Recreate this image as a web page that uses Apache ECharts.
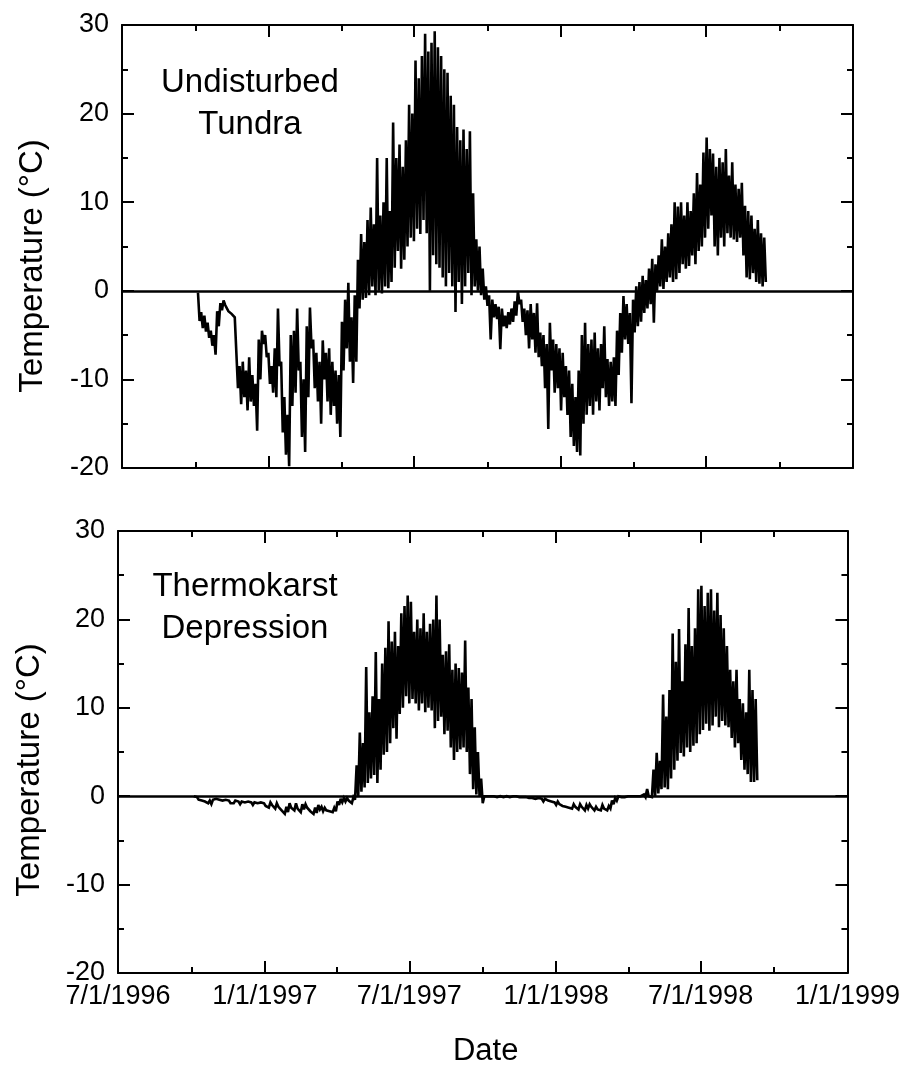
<!DOCTYPE html>
<html>
<head>
<meta charset="utf-8">
<script src="https://cdn.jsdelivr.net/npm/echarts@6/dist/echarts.min.js"></script>
<style>
  html, body { margin: 0; padding: 0; background: #fff; }
  #chart { width: 903px; height: 1068px; }
</style>
</head>
<body>
<div id="chart"></div>
<script>
// Near-surface temperature at two sites, Oct 1996 – Sep 1998.
// Each pair is the [low, high] reading of one 4-day step, beginning at the start date.
const stepDays = 4;
const dateMin = '1996-07-01';
const dateMax = '1999-01-01';
const tempMin = -20, tempMax = 30, tempStep = 10;
const panelLabels = ['Undisturbed\nTundra', 'Thermokarst\nDepression'];
const yTitle = 'Temperature (°C)';
const xTitle = 'Date';

const tundraStart = '1996-10-04';
const tundraRange = [
  [-3.4,-0.2],[-4.2,-2.4],[-4.6,-2.8],[-5.3,-3.6],[-6.2,-4.5],[-7.2,-5.0],[-4.0,-2.3],[-2.2,-1.4],
  [-1.6,-1.1],[-2.3,-1.7],[-2.6,-2.2],[-3.0,-2.5],[-11.0,-3.0],[-12.8,-8.5],[-12.0,-8.0],[-13.5,-9.0],
  [-12.5,-7.5],[-13.0,-9.5],[-15.8,-10.5],[-10.0,-5.5],[-6.0,-4.5],[-7.5,-5.0],[-10.5,-7.0],[-11.5,-8.5],
  [-12.0,-6.5],[-8.5,-2.0],[-16.0,-8.0],[-18.5,-12.0],[-19.8,-14.0],[-13.0,-5.0],[-11.5,-4.5],[-9.0,-2.0],
  [-16.5,-8.0],[-18.2,-10.0],[-12.0,-4.0],[-6.5,-1.9],[-11.0,-5.5],[-12.5,-7.0],[-15.0,-8.0],[-10.0,-5.6],
  [-12.5,-7.0],[-14.0,-6.5],[-13.0,-8.0],[-15.0,-9.0],[-16.5,-9.5],[-9.0,-3.5],[-6.5,-1.0],[-8.0,0.9],
  [-10.4,-3.0],[-8.0,-0.5],[-2.0,3.5],[-1.0,6.4],[-0.8,5.5],[-0.5,8.0],[0.5,9.4],[-0.5,7.5],
  [0.0,15.0],[-0.3,8.5],[0.5,10.0],[0.3,15.0],[1.0,9.0],[2.6,19.0],[4.5,15.0],[2.5,16.5],
  [3.5,14.0],[5.0,17.0],[6.0,21.0],[5.6,20.0],[7.0,26.0],[6.4,24.0],[8.0,26.5],[6.5,29.0],
  [0.0,27.0],[4.0,28.0],[3.0,29.3],[2.6,27.5],[1.5,26.5],[0.5,25.0],[2.0,24.6],[0.5,22.0],
  [-2.4,21.0],[1.0,18.5],[-1.5,17.0],[0.5,18.2],[2.0,16.0],[-0.5,18.0],[0.5,11.0],[0.0,5.8],
  [-0.5,5.0],[-1.0,2.5],[-1.7,0.5],[-5.5,-0.5],[-3.0,-1.0],[-3.2,-1.5],[-6.6,-1.8],[-4.0,-2.0],
  [-4.2,-2.8],[-3.8,-2.4],[-3.5,-2.0],[-2.8,-1.2],[-1.5,0.0],[-3.5,-1.0],[-5.0,-2.0],[-6.5,-2.2],
  [-5.5,-1.5],[-7.0,-2.5],[-7.5,-1.4],[-8.5,-4.7],[-11.0,-5.0],[-15.6,-6.0],[-9.0,-3.6],[-11.5,-5.5],
  [-11.0,-6.0],[-13.5,-6.5],[-12.0,-7.0],[-14.0,-8.5],[-16.5,-9.0],[-17.5,-10.5],[-18.2,-12.0],[-18.6,-9.0],
  [-15.0,-5.0],[-14.0,-3.6],[-13.0,-6.0],[-14.0,-5.5],[-12.5,-4.7],[-13.5,-6.5],[-11.0,-6.0],[-12.0,-4.0],
  [-13.0,-7.7],[-12.5,-8.0],[-13.0,-7.5],[-9.5,-4.5],[-7.0,-2.5],[-5.5,-0.6],[-6.0,-1.5],[-12.7,-2.5],
  [-4.7,-1.0],[-4.0,0.5],[-3.5,1.0],[-2.5,1.7],[-2.0,1.2],[-1.5,2.5],[-3.6,3.6],[0.0,3.0],
  [0.5,4.0],[0.2,5.8],[1.0,5.0],[1.5,6.5],[1.0,7.5],[1.3,10.0],[2.0,9.5],[3.0,10.0],
  [2.5,8.5],[2.8,10.0],[4.0,9.0],[3.0,11.0],[4.5,13.3],[5.0,12.0],[6.0,15.6],[7.0,17.3],
  [8.5,16.0],[5.0,15.5],[4.0,14.0],[6.0,15.0],[5.0,14.5],[6.5,16.0],[6.0,13.0],[5.8,14.5],
  [5.5,12.0],[6.0,11.5],[4.0,12.2],[1.5,9.6],[1.3,9.0],[2.0,8.5],[1.0,7.0],[0.8,8.0],
  [0.5,6.5],[1.0,6.0]
];

const karstStart = '1996-10-04';
const karstRange = [
  [-0.2,0.0],[-0.4,-0.1],[-0.5,-0.2],[-0.6,-0.3],[-0.8,-0.4],[-0.9,-0.5],[-0.6,-0.4],[-0.5,-0.3],
  [-0.6,-0.4],[-0.7,-0.5],[-0.6,-0.4],[-0.8,-0.5],[-0.8,-0.6],[-0.7,-0.5],[-0.9,-0.6],[-0.8,-0.6],
  [-0.9,-0.7],[-0.8,-0.6],[-1.0,-0.7],[-0.9,-0.7],[-1.0,-0.8],[-0.9,-0.7],[-1.1,-0.8],[-1.3,-0.9],
  [-1.0,-0.7],[-1.4,-1.0],[-1.2,-0.8],[-1.6,-1.1],[-2.0,-1.5],[-1.8,-1.2],[-1.3,-0.8],[-1.6,-1.1],
  [-1.4,-0.8],[-1.8,-1.2],[-1.5,-0.9],[-1.3,-0.9],[-1.7,-1.2],[-2.0,-1.5],[-1.9,-1.3],[-1.5,-1.0],
  [-1.7,-1.2],[-1.6,-1.3],[-1.7,-1.4],[-1.8,-1.5],[-1.7,-1.3],[-1.0,-0.6],[-0.7,-0.3],[-0.6,-0.2],
  [-0.5,-0.2],[-0.8,-0.3],[-0.4,-0.1],[-0.1,3.5],[0.5,7.2],[1.0,6.0],[1.5,14.6],[2.0,9.5],
  [2.4,11.3],[1.5,16.3],[3.0,11.0],[4.7,15.0],[5.0,16.8],[6.0,19.8],[7.7,17.5],[6.5,18.6],
  [9.3,17.0],[10.0,20.7],[11.3,21.5],[10.5,22.7],[11.0,22.0],[10.5,18.6],[9.7,20.0],[10.5,19.0],
  [9.5,20.7],[10.0,18.6],[9.7,19.5],[7.7,20.0],[8.5,22.7],[9.0,20.0],[7.0,16.0],[7.4,16.4],
  [5.5,17.2],[4.1,14.3],[5.0,15.0],[5.3,14.5],[5.5,14.0],[5.0,17.6],[2.5,12.3],[0.8,11.0],
  [0.2,7.8],[0.0,5.0],[-0.8,2.0],[-0.2,0.0],[-0.1,0.0],[-0.2,0.0],[-0.1,0.0],[-0.2,-0.1],
  [-0.1,0.0],[-0.2,-0.1],[-0.1,0.0],[-0.2,-0.1],[-0.2,0.0],[-0.1,0.0],[-0.2,-0.1],[-0.2,-0.1],
  [-0.3,-0.1],[-0.3,-0.2],[-0.4,-0.2],[-0.5,-0.3],[-0.4,-0.2],[-0.6,-0.3],[-0.5,-0.3],[-0.7,-0.5],
  [-0.8,-0.6],[-1.0,-0.7],[-0.9,-0.6],[-1.1,-0.8],[-1.2,-0.9],[-1.3,-1.0],[-1.4,-1.1],[-1.2,-0.9],
  [-1.5,-1.1],[-1.2,-0.9],[-1.6,-1.2],[-1.4,-1.0],[-1.2,-0.9],[-1.6,-1.2],[-1.5,-1.2],[-1.6,-1.3],
  [-1.4,-1.0],[-1.6,-1.3],[-1.4,-1.1],[-0.9,-0.5],[-0.5,-0.2],[-0.2,0.0],[-0.3,-0.1],[-0.2,-0.1],
  [-0.2,0.0],[-0.1,0.0],[-0.2,0.0],[-0.1,0.0],[-0.1,0.0],[-0.1,0.2],[0.0,0.8],[-0.1,0.1],
  [0.0,3.0],[0.3,4.9],[0.8,4.0],[1.0,11.5],[0.8,9.0],[2.0,12.0],[3.0,18.4],[4.0,15.2],
  [4.9,18.9],[4.5,13.0],[5.5,17.2],[5.0,21.3],[5.7,17.0],[6.0,19.0],[7.0,23.4],[7.5,23.8],
  [8.2,21.5],[7.4,23.0],[8.0,23.4],[9.0,21.0],[7.8,23.0],[8.5,20.5],[8.0,19.0],[7.8,17.0],
  [6.6,14.3],[5.5,13.0],[6.0,14.3],[4.1,11.0],[3.0,10.5],[2.5,9.5],[1.6,14.3],[1.6,12.0],
  [1.8,11.0]
];

const DAY = 86400000;
const FONT = '"Liberation Sans", Arial, Helvetica, sans-serif';

// Turn each [low, high] step into two readings so the trace swings across the daily range.
function rangeTrace(start, ranges) {
  const t0 = Date.parse(start);
  const pts = [];
  ranges.forEach(function (r, i) {
    const t = t0 + i * stepDays * DAY;
    pts.push([t, r[1]]);
    pts.push([t + (stepDays / 2) * DAY, r[0]]);
  });
  return pts;
}

function fmtDate(v) {
  const d = new Date(v);
  return (d.getUTCMonth() + 1) + '/' + d.getUTCDate() + '/' + d.getUTCFullYear();
}

const black = { color: '#000', width: 2 };

function dateAxis(grid, position, showLabels) {
  return {
    type: 'time', gridIndex: grid, position: position,
    min: Date.parse(dateMin), max: Date.parse(dateMax),
    splitNumber: 5, minInterval: 181 * DAY, maxInterval: 184 * DAY,
    axisLine: { show: true, onZero: false, lineStyle: black },
    axisTick: { show: true, inside: true, length: 12, lineStyle: black },
    minorTick: { show: true, splitNumber: 2, length: 6, lineStyle: black },
    axisLabel: {
      show: showLabels, formatter: fmtDate, fontSize: 27, color: '#000',
      fontFamily: FONT, margin: 10, showMinLabel: true, showMaxLabel: true, hideOverlap: false
    },
    splitLine: { show: false }, minorSplitLine: { show: false }
  };
}

function tempAxis(grid, position, showLabels) {
  return {
    type: 'value', gridIndex: grid, position: position,
    min: tempMin, max: tempMax, interval: tempStep,
    axisLine: { show: true, onZero: false, lineStyle: black },
    axisTick: { show: true, inside: true, length: 12, lineStyle: black },
    minorTick: { show: true, splitNumber: 2, length: 6, lineStyle: black },
    axisLabel: { show: showLabels, fontSize: 27, color: '#000', fontFamily: FONT, margin: 13 },
    splitLine: { show: false }, minorSplitLine: { show: false }
  };
}

function traceSeries(idx, data) {
  return {
    type: 'line', xAxisIndex: idx * 2, yAxisIndex: idx * 2,
    data: data, showSymbol: false, symbol: 'none', sampling: null,
    lineStyle: { color: '#000', width: 2.6, join: 'miter', miterLimit: 3 },
    markLine: {
      silent: true, symbol: 'none', label: { show: false },
      lineStyle: { color: '#000', width: 2.5, type: 'solid' },
      data: [{ yAxis: 0 }]
    }
  };
}

const chart = echarts.init(document.getElementById('chart'), null, { renderer: 'canvas' });

const xAxes = [
  dateAxis(0, 'bottom', false), dateAxis(0, 'top', false),
  dateAxis(1, 'bottom', true), dateAxis(1, 'top', false)
];
xAxes[2].name = xTitle;
xAxes[2].nameLocation = 'middle';
xAxes[2].nameGap = 63;
xAxes[2].nameTextStyle = { fontSize: 31, color: '#000', fontFamily: FONT, padding: [0, 0, 0, 6] };

chart.setOption({
  animation: false,
  useUTC: true,
  backgroundColor: '#fff',
  grid: [
    { left: 122, top: 25, width: 731, height: 443 },
    { left: 118, top: 531, width: 731, height: 442 }
  ],
  xAxis: xAxes,
  yAxis: [
    tempAxis(0, 'left', true), tempAxis(0, 'right', false),
    tempAxis(1, 'left', true), tempAxis(1, 'right', false)
  ],
  series: [
    traceSeries(0, rangeTrace(tundraStart, tundraRange)),
    traceSeries(1, rangeTrace(karstStart, karstRange))
  ],
  graphic: [
    { type: 'text', x: 33, y: 266, rotation: Math.PI / 2,
      style: { text: yTitle, font: '33px ' + FONT, fill: '#000', align: 'center', verticalAlign: 'middle' } },
    { type: 'text', x: 30, y: 770, rotation: Math.PI / 2,
      style: { text: yTitle, font: '33px ' + FONT, fill: '#000', align: 'center', verticalAlign: 'middle' } },
    { type: 'text', x: 250, y: 104,
      style: { text: panelLabels[0], font: '33px ' + FONT, lineHeight: 42, fill: '#000', align: 'center', verticalAlign: 'middle' } },
    { type: 'text', x: 245, y: 608,
      style: { text: panelLabels[1], font: '33px ' + FONT, lineHeight: 42, fill: '#000', align: 'center', verticalAlign: 'middle' } }
  ]
});
</script>
</body>
</html>
